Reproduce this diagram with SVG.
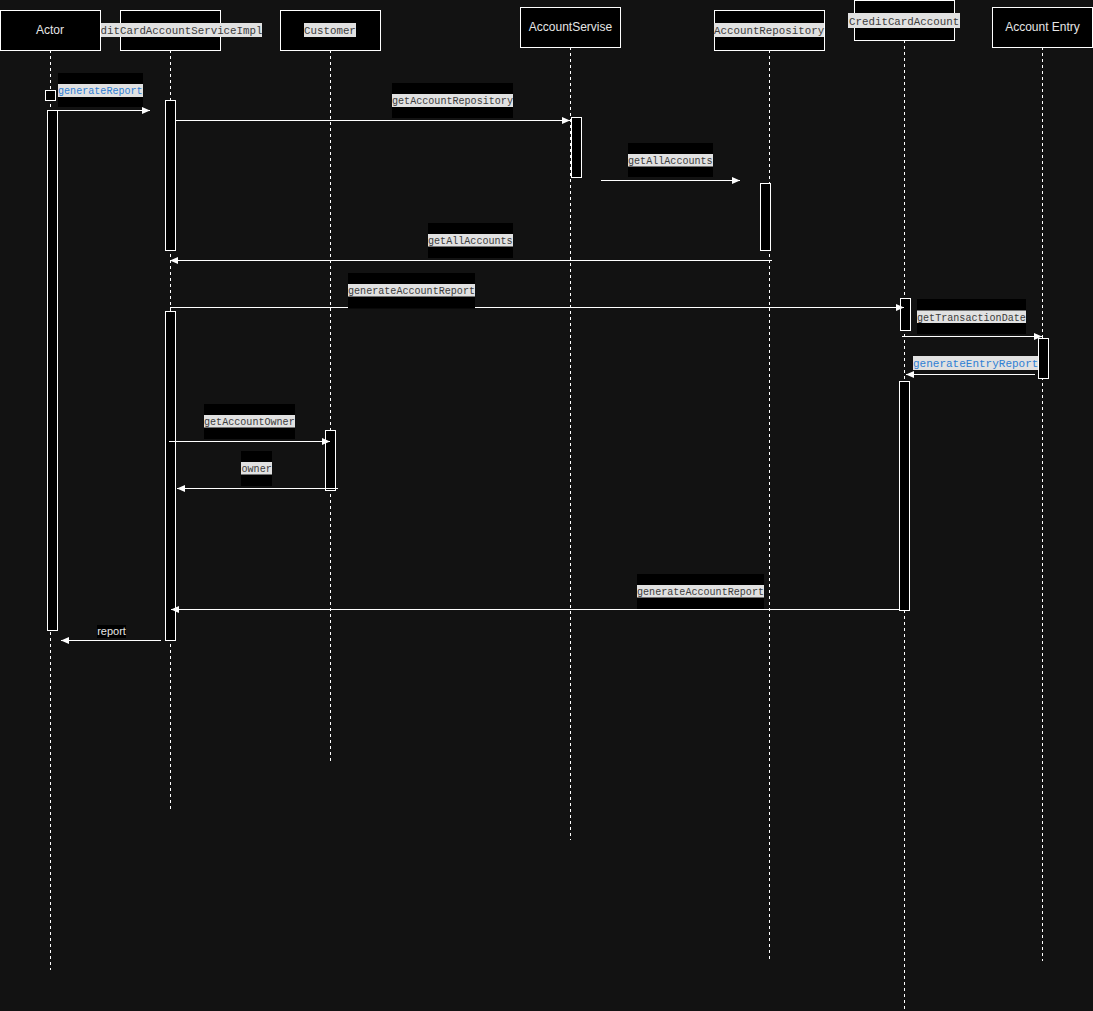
<svg xmlns="http://www.w3.org/2000/svg" width="1093" height="1011" viewBox="0 0 1093 1011">
<style>
.hdr{fill:#000;stroke:#fff;stroke-width:1}
.act{fill:#000;stroke:#fff;stroke-width:1}
.life{stroke:#fff;stroke-width:1;stroke-dasharray:3 3;fill:none}
.msg{stroke:#fff;stroke-width:1;fill:none}
.lbox{fill:#000}
.lbg{fill:#e1e1e1}
.mono{font-family:"Liberation Mono","DejaVu Sans Mono",monospace;fill:#3c3c3c}
.sm{font-size:10.08px}
.md{font-size:10.8px}
.lg{font-size:11px}
.blue{fill:#2f7fd4}
.sans{font-family:"Liberation Sans",Arial,sans-serif;fill:#e6e6e6;font-size:12px}
</style>
<defs>
<marker id="ah" viewBox="0 0 8 8" refX="8" refY="4" markerWidth="8" markerHeight="8" markerUnits="userSpaceOnUse" orient="auto">
<path d="M0,0.5 L8,4 L0,7.5 z" fill="#fff"/>
</marker>
</defs>
<rect x="0" y="0" width="1093" height="1011" fill="#121212"/>

<g id="lifelines">
<line class="life" x1="50.5" y1="50" x2="50.5" y2="970"/>
<line class="life" x1="170.5" y1="50" x2="170.5" y2="809"/>
<line class="life" x1="330.5" y1="50" x2="330.5" y2="761"/>
<line class="life" x1="570.5" y1="47" x2="570.5" y2="840"/>
<line class="life" x1="769.5" y1="50" x2="769.5" y2="959"/>
<line class="life" x1="904.5" y1="40" x2="904.5" y2="1011"/>
<line class="life" x1="1042.5" y1="47" x2="1042.5" y2="961"/>
</g>

<g id="impl">
<rect class="hdr" x="120.5" y="10.5" width="100" height="40"/>
<rect class="lbg" x="100" y="23" width="162" height="14"/>
<text class="mono md" x="100.5" y="34">ditCardAccountServiceImpl</text>
<rect class="act" x="165.5" y="100.5" width="10" height="150"/>
<rect class="act" x="165.5" y="311.5" width="10" height="329"/>
</g>

<g id="actor">
<rect class="hdr" x="0.5" y="10.5" width="100" height="40"/>
<text class="sans" x="50" y="34" text-anchor="middle">Actor</text>
<rect class="act" x="45.5" y="90.5" width="10" height="10"/>
<rect class="act" x="47.5" y="110.5" width="10" height="520"/>
</g>

<g id="customer">
<rect class="hdr" x="280.5" y="10.5" width="100" height="40"/>
<rect class="lbg" x="304" y="23" width="52" height="14"/>
<text class="mono md" x="304" y="34">Customer</text>
<rect class="act" x="325.5" y="430.5" width="10" height="60"/>
</g>

<g id="accountServise">
<rect class="hdr" x="520.5" y="7.5" width="100" height="40"/>
<text class="sans" x="570.5" y="31" text-anchor="middle">AccountServise</text>
<rect class="act" x="571.5" y="117.5" width="10" height="60"/>
</g>

<g id="accountRepository">
<rect class="hdr" x="714.5" y="10.5" width="110" height="40"/>
<rect class="lbg" x="714" y="23" width="110" height="14"/>
<text class="mono md" x="714" y="34">AccountRepository</text>
<rect class="act" x="760.5" y="183.5" width="10" height="67"/>
</g>

<g id="creditCardAccount">
<rect class="hdr" x="854.5" y="0.5" width="100" height="40"/>
<rect class="lbg" x="848" y="13" width="112" height="15"/>
<text class="mono md" x="849" y="24.5">CreditCardAccount</text>
<rect class="act" x="900.5" y="298.5" width="10" height="32"/>
<rect class="act" x="899.5" y="381.5" width="10" height="229"/>
</g>

<g id="accountEntry">
<rect class="hdr" x="992.5" y="7.5" width="100" height="40"/>
<text class="sans" x="1042.5" y="31" text-anchor="middle">Account Entry</text>
<rect class="act" x="1038.5" y="338.5" width="10" height="40"/>
</g>

<g id="connectors">
<line class="msg" x1="57" y1="110.5" x2="150" y2="110.5" marker-end="url(#ah)"/>
<line class="msg" x1="175" y1="120.5" x2="570" y2="120.5" marker-end="url(#ah)"/>
<line class="msg" x1="601" y1="180.5" x2="740" y2="180.5" marker-end="url(#ah)"/>
<line class="msg" x1="772" y1="260.5" x2="170" y2="260.5" marker-end="url(#ah)"/>
<line class="msg" x1="170" y1="307.5" x2="904" y2="307.5" marker-end="url(#ah)"/>
<line class="msg" x1="902" y1="336.5" x2="1042" y2="336.5" marker-end="url(#ah)"/>
<line class="msg" x1="1035" y1="374.5" x2="906" y2="374.5" marker-end="url(#ah)"/>
<line class="msg" x1="169" y1="441.5" x2="330" y2="441.5" marker-end="url(#ah)"/>
<line class="msg" x1="338" y1="488.5" x2="177" y2="488.5" marker-end="url(#ah)"/>
<line class="msg" x1="899" y1="609.5" x2="171" y2="609.5" marker-end="url(#ah)"/>
<line class="msg" x1="161" y1="640.5" x2="61" y2="640.5" marker-end="url(#ah)"/>
</g>

<g id="labels">
<rect class="lbox" x="58" y="73" width="85" height="34"/>
<rect class="lbg" x="58" y="84" width="85" height="13"/>
<text class="mono sm blue" x="58" y="94">generateReport</text>

<rect class="lbox" x="392" y="83" width="121" height="35"/>
<rect class="lbg" x="392" y="94" width="121" height="13"/>
<text class="mono sm" x="392" y="104">getAccountRepository</text>

<rect class="lbox" x="628" y="143" width="85" height="34"/>
<rect class="lbg" x="628" y="154" width="85" height="12.5"/>
<text class="mono sm" x="628" y="164">getAllAccounts</text>

<rect class="lbox" x="428" y="223" width="85" height="35"/>
<rect class="lbg" x="428" y="234" width="85" height="12.5"/>
<text class="mono sm" x="428" y="244">getAllAccounts</text>

<rect class="lbox" x="348" y="273" width="127" height="35.5"/>
<rect class="lbg" x="348" y="284" width="127" height="12.5"/>
<text class="mono sm" x="348" y="294">generateAccountReport</text>

<rect class="lbox" x="917" y="299" width="109" height="35"/>
<rect class="lbg" x="917" y="310.5" width="109" height="12.5"/>
<text class="mono sm" x="917" y="320.5">getTransactionDate</text>

<rect class="lbg" x="913" y="356" width="125" height="14"/>
<text class="mono lg blue" x="913" y="366.5">generateEntryReport</text>

<rect class="lbox" x="204" y="404" width="91" height="35"/>
<rect class="lbg" x="204" y="415" width="91" height="12.5"/>
<text class="mono sm" x="204" y="425">getAccountOwner</text>

<rect class="lbox" x="241" y="451" width="31" height="35"/>
<rect class="lbg" x="241" y="462" width="31" height="12.5"/>
<text class="mono sm" x="241.5" y="472">owner</text>

<rect class="lbox" x="637" y="574" width="127" height="35"/>
<rect class="lbg" x="637" y="585" width="127" height="12.5"/>
<text class="mono sm" x="637" y="595">generateAccountReport</text>

<rect class="lbox" x="97" y="625" width="29" height="13"/>
<text class="sans" x="111.5" y="635" text-anchor="middle" style="font-size:11px">report</text>
</g>
</svg>
